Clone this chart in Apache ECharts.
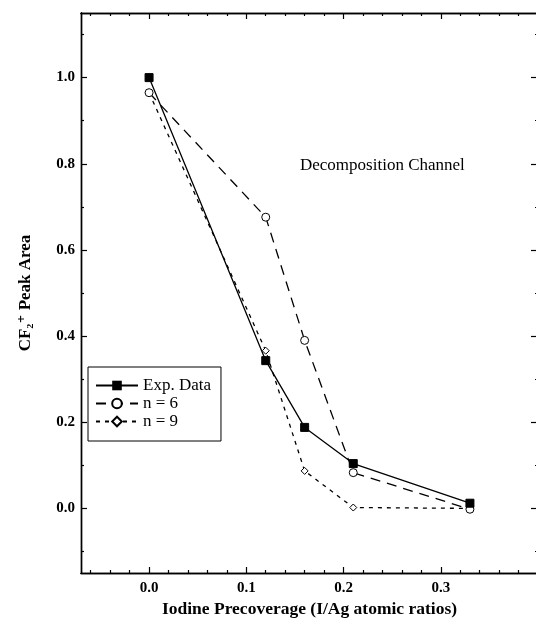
<!DOCTYPE html>
<html>
<head>
<meta charset="utf-8">
<script src="https://cdn.jsdelivr.net/npm/echarts@6/dist/echarts.min.js"></script>
<style>
  html, body { margin: 0; padding: 0; background: #fff; }
  #main { width: 536px; height: 620px; }
</style>
</head>
<body>
<div id="main"></div>
<script>
// iodine precoverage (I/Ag) and normalised CF2+ peak area
const coverage = [0, 0.12, 0.16, 0.21, 0.33];
const expData = [1.0, 0.343, 0.188, 0.104, 0.012];
const n6 = [0.965, 0.676, 0.39, 0.083, -0.002];
const n9 = [0.965, 0.366, 0.087, 0.002, 0.0];

const xMajor = [0, 0.1, 0.2, 0.3];
const xMinor = [-0.06, -0.04, -0.02, 0.02, 0.04, 0.06, 0.08, 0.12, 0.14, 0.16, 0.18,
  0.22, 0.24, 0.26, 0.28, 0.32, 0.34, 0.36, 0.38];
const yMajor = [0, 0.2, 0.4, 0.6, 0.8, 1.0];
const yMinor = [-0.1, 0.1, 0.3, 0.5, 0.7, 0.9, 1.1];

const serif = '"Liberation Serif", "DejaVu Serif", serif';
const black = "#000";

function pairs(ys) {
  return coverage.map((x, i) => [x, ys[i]]);
}

// one axis = line + inside ticks at given values (labels optional)
function axis(kind, pos, ticks, len, labels) {
  const isX = kind === "x";
  return {
    type: "value",
    position: pos,
    min: isX ? -0.07 : -0.15,
    max: isX ? 0.4 : 1.15,
    axisLine: { show: true, onZero: false, lineStyle: { color: black, width: 1.4 } },
    axisTick: { show: true, inside: true, length: len, customValues: ticks, lineStyle: { color: black, width: 1.2 } },
    axisLabel: {
      show: labels,
      customValues: ticks,
      formatter: (v) => v.toFixed(1),
      margin: isX ? 8 : 6,
      fontFamily: serif,
      fontWeight: "bold",
      fontSize: 15,
      color: black,
    },
    splitLine: { show: false },
  };
}

const xAxes = [
  axis("x", "bottom", xMajor, 6, true),
  axis("x", "bottom", xMinor, 3, false),
  axis("x", "top", xMajor, 6, false),
  axis("x", "top", xMinor, 3, false),
];
xAxes[0].name = "Iodine Precoverage (I/Ag atomic ratios)";
xAxes[0].nameLocation = "middle";
xAxes[0].nameGap = 26;
xAxes[0].nameTextStyle = { fontFamily: serif, fontWeight: "bold", fontSize: 17.5, color: black };

const yAxes = [
  axis("y", "left", yMajor, 6, true),
  axis("y", "left", yMinor, 3, false),
  axis("y", "right", yMajor, 7, false),
  axis("y", "right", yMinor, 3, false),
];
yAxes[0].name = "CF\u2082\u207A Peak Area";
yAxes[0].nameLocation = "middle";
yAxes[0].nameRotate = 90;
yAxes[0].nameGap = 47;
yAxes[0].nameTextStyle = { fontFamily: serif, fontWeight: "bold", fontSize: 17, color: black };

const chart = echarts.init(document.getElementById("main"));
chart.setOption({
  animation: false,
  backgroundColor: "#fff",
  grid: { left: 81, top: 13, width: 457, height: 560, outerBoundsMode: "none" },
  xAxis: xAxes,
  yAxis: yAxes,
  legend: {
    left: 88,
    top: 367,
    orient: "vertical",
    itemWidth: 42,
    itemHeight: 12,
    itemGap: 1,
    padding: [10, 10, 11, 7],
    borderColor: black,
    borderWidth: 1,
    textStyle: { fontFamily: serif, fontSize: 17, color: black },
    data: ["Exp. Data", "n = 6", "n = 9"],
  },
  graphic: [
    {
      type: "text",
      left: 300,
      top: 157,
      style: { text: "Decomposition Channel", font: '17px "Liberation Serif", serif', fill: black },
    },
  ],
  series: [
    {
      name: "n = 9",
      type: "line",
      data: pairs(n9),
      symbol: "diamond",
      symbolSize: 7,
      lineStyle: { color: black, width: 1.3, type: [4, 5] },
      itemStyle: { color: "#fff", borderColor: black, borderWidth: 1 },
      z: 2,
    },
    {
      name: "n = 6",
      type: "line",
      data: pairs(n6),
      symbol: "circle",
      symbolSize: 8,
      lineStyle: { color: black, width: 1.3, type: [10, 7] },
      itemStyle: { color: "#fff", borderColor: black, borderWidth: 1 },
      z: 3,
    },
    {
      name: "Exp. Data",
      type: "line",
      data: pairs(expData),
      symbol: "rect",
      symbolSize: 8,
      lineStyle: { color: black, width: 1.3 },
      itemStyle: { color: black, borderColor: black },
      z: 4,
    },
  ],
});
</script>
</body>
</html>
